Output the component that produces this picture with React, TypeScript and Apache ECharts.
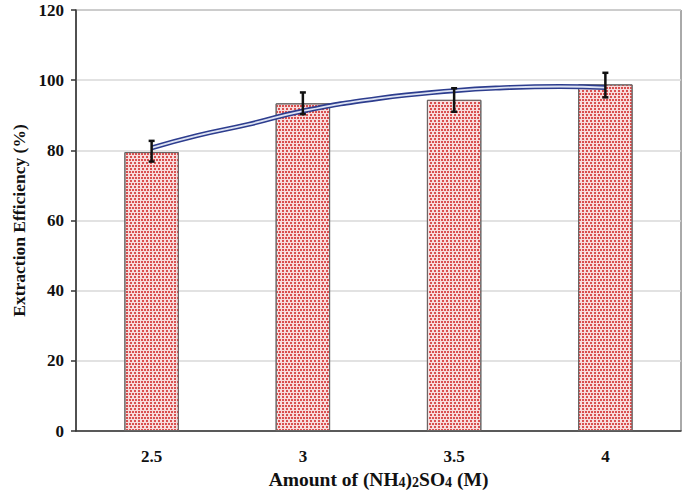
import React, { useEffect, useRef } from "react";
import * as echarts from "echarts";

const categories = ["2.5", "3", "3.5", "4"];
const efficiency = [79.5, 93.4, 94.4, 98.8];
const errLow = [76.8, 90.3, 91.0, 95.1];
const errHigh = [82.7, 96.5, 97.7, 102.1];
const trendX = [2.5, 2.65, 2.82, 3.0, 3.25, 3.5, 3.65, 3.85, 4.0];
const trendY = [80.7, 84.2, 87.4, 91.2, 94.8, 97.0, 97.8, 98.2, 97.9];
const yTicks = [0, 20, 40, 60, 80, 100, 120];

const FONT = "'Liberation Serif', 'Times New Roman', serif";

export default function App() {
  const ref = useRef<HTMLDivElement>(null);
  useEffect(() => {
    if (!ref.current) return;
    const chart = echarts.init(ref.current, undefined, { renderer: "svg" });
    const trend = trendX.map((x, i) => [x, trendY[i]]);
    const errData = categories.map((_, i) => [i, errLow[i], errHigh[i]]);
    chart.setOption({
      animation: false,
      backgroundColor: "#ffffff",
      grid: {
        left: 76,
        right: 4,
        top: 10,
        bottom: 59,
        containLabel: false,
        outerBoundsMode: "none",
        show: true,
        borderColor: "#555555",
        borderWidth: 1,
        backgroundColor: "transparent",
      },
      xAxis: [
        {
          type: "category",
          data: categories,
          axisLine: { lineStyle: { color: "#333333", width: 1.5 } },
          axisTick: { length: 6, lineStyle: { color: "#333333", width: 1.5 } },
          axisLabel: {
            margin: 17,
            fontFamily: FONT,
            fontWeight: "bold",
            fontSize: 17,
            color: "#111111",
          },
          name: "{n|Amount of (NH}{s|4}{n|)}{s|2}{n|SO}{s|4}{n| (M)}",
          nameLocation: "middle",
          nameGap: 38,
          nameTextStyle: {
            rich: {
              n: { fontFamily: FONT, fontWeight: "bold", fontSize: 19.5, color: "#111111" },
              s: {
                fontFamily: FONT,
                fontWeight: "bold",
                fontSize: 14,
                color: "#111111",
                padding: [5, 0, 0, 0],
              },
            },
          },
        },
        {
          type: "value",
          min: 2.25,
          max: 4.25,
          show: false,
        },
      ],
      yAxis: {
        type: "value",
        min: 0,
        max: 120,
        interval: 20,
        axisLine: { show: true, lineStyle: { color: "#333333", width: 1.5 } },
        axisTick: { show: true, length: 5, lineStyle: { color: "#333333", width: 1.5 } },
        splitLine: { lineStyle: { color: "#d9d9d9", width: 1.5 } },
        axisLabel: {
          margin: 12,
          fontFamily: FONT,
          fontWeight: "bold",
          fontSize: 17,
          color: "#111111",
          formatter: (v: number) => (yTicks.includes(v) ? String(v) : ""),
        },
        name: "Extraction Efficiency (%)",
        nameLocation: "middle",
        nameGap: 46,
        nameTextStyle: {
          fontFamily: FONT,
          fontWeight: "bold",
          fontSize: 17.5,
          color: "#111111",
        },
      },
      series: [
        {
          type: "bar",
          data: efficiency,
          barWidth: "36%",
          itemStyle: {
            color: "#f8dcdc",
            borderColor: "#666666",
            borderWidth: 1,
            decal: {
              symbol: "rect",
              symbolSize: 1,
              color: "#d95050",
              dashArrayX: [[2, 1], [0, 1.5, 2, 0]],
              dashArrayY: [1.5, 1],
              rotation: 0,
            },
          },
          z: 2,
        },
        {
          type: "line",
          xAxisIndex: 1,
          data: trend,
          smooth: true,
          symbol: "none",
          lineStyle: { color: "#2d3d8e", width: 5 },
          z: 3,
        },
        {
          type: "line",
          xAxisIndex: 1,
          data: trend,
          smooth: true,
          symbol: "none",
          lineStyle: { color: "#dde3f3", width: 1.8 },
          z: 4,
        },
        {
          type: "custom",
          data: errData,
          z: 5,
          renderItem: (params: any, api: any) => {
            const i = api.value(0);
            const lo = api.coord([i, api.value(1)]);
            const hi = api.coord([i, api.value(2)]);
            const cap = 3;
            const style = { stroke: "#111111", lineWidth: 2.5 };
            return {
              type: "group",
              children: [
                { type: "line", shape: { x1: lo[0], y1: lo[1], x2: hi[0], y2: hi[1] }, style },
                { type: "line", shape: { x1: lo[0] - cap, y1: lo[1], x2: lo[0] + cap, y2: lo[1] }, style },
                { type: "line", shape: { x1: hi[0] - cap, y1: hi[1], x2: hi[0] + cap, y2: hi[1] }, style },
              ],
            };
          },
        },
      ],
    });
    return () => chart.dispose();
  }, []);
  return (
    <div
      ref={ref}
      style={{ position: "fixed", left: 0, top: 0, width: 685, height: 490 }}
    />
  );
}
